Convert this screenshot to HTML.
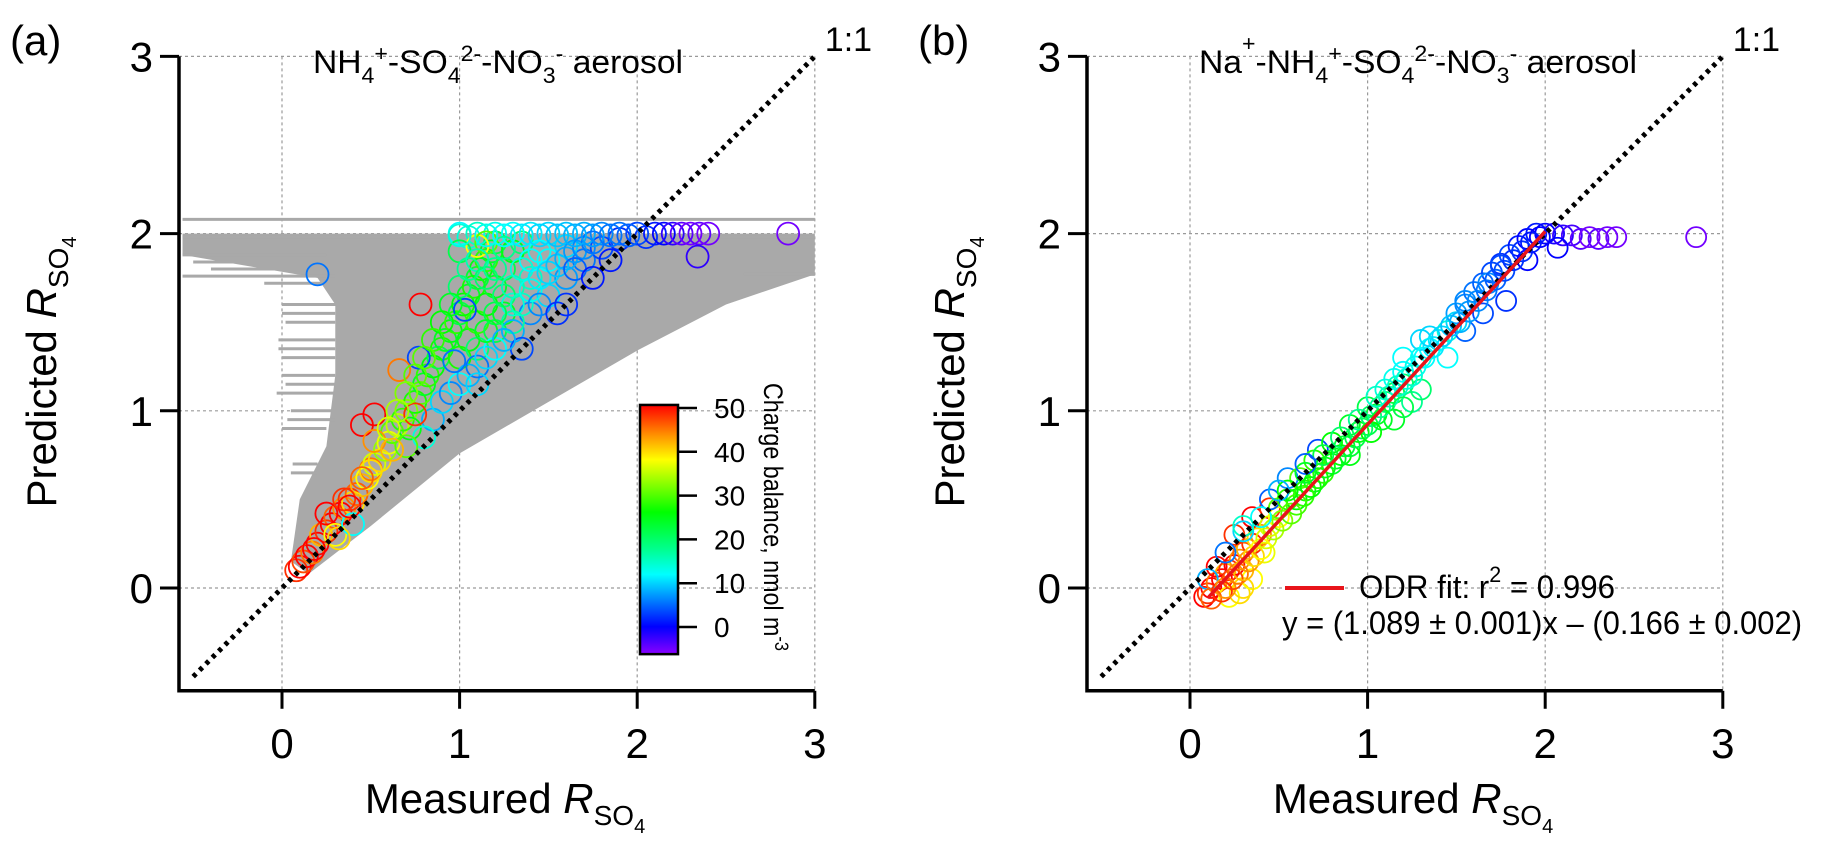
<!DOCTYPE html>
<html><head><meta charset="utf-8"><style>
html,body{margin:0;padding:0;background:#fff}
svg{display:block;font-family:"Liberation Sans",Arial,sans-serif}
</style></head><body>
<svg id="fig" width="1843" height="845" viewBox="0 0 1843 845">
<defs>
<linearGradient id="cbgrad" x1="0" y1="1" x2="0" y2="0">
<stop offset="0" stop-color="#8a00ff"/>
<stop offset="0.11" stop-color="#0000ff"/>
<stop offset="0.19" stop-color="#0060ff"/>
<stop offset="0.32" stop-color="#00ffff"/>
<stop offset="0.42" stop-color="#00ff90"/>
<stop offset="0.57" stop-color="#00ff00"/>
<stop offset="0.78" stop-color="#ffff00"/>
<stop offset="0.88" stop-color="#ff9000"/>
<stop offset="1" stop-color="#ff0000"/>
</linearGradient>
</defs>
<g id="panelA"></g>
<g id="panelB"></g>
</svg>
<script>
// ---- data ----
const tickValues = [0, 1, 2, 3];
const tickLabels = ["0", "1", "2", "3"];
const cbTicks = [0, 10, 20, 30, 40, 50];
const cbLabels = ["0", "10", "20", "30", "40", "50"];

// panel (a) measured, predicted, charge balance
const aX = [0.08,0.1,0.12,0.14,0.17,0.2,0.22,0.25,0.28,0.3,0.33,0.35,0.38,0.4,0.42,0.45,0.48,0.5,0.52,0.55,0.25,0.35,0.3,0.4,0.32,
0.58,0.6,0.62,0.65,0.68,0.7,0.72,0.75,0.78,0.8,0.82,0.85,0.88,0.9,0.92,0.95,0.98,1.0,1.02,1.05,1.08,1.1,1.12,1.15,1.18,1.2,1.05,1.1,1.15,1.2,1.25,1.3,1.35,1.0,1.1,1.2,1.25,
0.85,0.9,0.95,1.0,1.05,1.1,1.15,1.2,1.3,1.4,1.5,1.6,1.7,1.8,1.9,1.3,1.4,1.5,1.6,1.35,1.6,1.85,0.8,
1.0,1.05,1.1,1.2,1.3,1.4,1.5,1.6,1.7,1.8,1.9,2.0,2.05,2.1,2.15,2.2,2.25,2.3,2.35,2.4,2.34,2.85,1.1,1.15,1.0,1.25,
0.2,0.78,0.77,0.66,0.45,0.52,0.52,0.5,1.03,0.97,0.7,0.75,
1.0,1.05,1.1,1.15,1.2,1.25,1.3,1.35,1.4,1.45,1.3,1.35,1.4,1.45,1.5,1.55,1.6,1.65,1.7,1.75,1.2,1.15,0.95,0.9,0.85,0.8,0.75,0.7,0.65,0.6,
1.0,1.15,1.25,1.35,1.45,1.55,1.65,1.75,1.85,1.95,1.1,1.25,1.45,1.65,1.55,1.75,0.62,0.45,0.38,0.18];
const aY = [0.10,0.12,0.15,0.18,0.2,0.25,0.3,0.32,0.36,0.4,0.42,0.45,0.5,0.48,0.53,0.58,0.62,0.67,0.7,0.72,0.42,0.5,0.3,0.36,0.28,
0.78,0.82,0.88,0.92,0.95,1.0,0.9,1.05,1.1,1.15,1.2,1.25,1.3,1.35,1.4,1.45,1.5,1.55,1.6,1.65,1.7,1.75,1.8,1.85,1.9,1.95,1.4,1.5,1.6,1.7,1.8,1.9,1.95,1.3,1.35,1.45,1.55,
0.95,1.05,1.1,1.15,1.2,1.25,1.3,1.35,1.45,1.55,1.65,1.75,1.85,1.92,1.97,1.6,1.75,1.85,1.93,1.35,1.6,1.85,0.85,
2.0,1.98,2.0,2.0,2.0,2.0,2.0,2.0,2.0,2.0,2.0,2.0,1.98,2.0,2.0,2.0,2.0,2.0,2.0,2.0,1.87,2.0,1.93,1.95,1.9,1.92,
1.77,1.6,1.3,1.23,0.92,0.98,0.83,0.66,1.57,1.28,0.8,0.98,
1.7,1.8,1.85,1.75,1.8,1.65,1.7,1.8,1.85,1.9,1.5,1.6,1.68,1.75,1.78,1.82,1.86,1.9,1.92,1.95,1.55,1.45,1.6,1.5,1.4,1.3,1.2,1.1,1.0,0.9,
1.99,1.99,1.99,1.99,1.99,1.99,1.99,1.99,1.99,1.99,1.15,1.4,1.6,1.8,1.55,1.75,0.78,0.62,0.46,0.22];
const aC = [48,50,47,50,45,50,42,48,50,46,50,44,48,40,46,42,38,45,36,40,50,48,38,12,40,
33,37,30,35,28,32,25,27,30,24,28,26,22,27,24,25,28,22,26,24,27,23,25,28,24,22,25,28,26,24,22,25,20,27,20,22,24,
8,10,6,12,8,5,10,12,8,6,10,7,5,3,2,14,15,12,10,3,2,1,14,
12,14,15,13,12,11,10,9,8,6,5,3,2,1,0,-2,-4,-5,-4,-5,-2,-5,38,30,22,18,
5,50,3,45,50,50,44,40,3,5,30,48,
20,18,16,20,18,20,16,14,12,12,17,15,13,11,10,9,8,7,6,5,22,24,24,26,28,30,30,32,34,36,
14,13,12,11,10,9,8,7,5,4,10,8,6,4,2,1,42,46,50,50];

// panel (a) error envelope (data coords) and horizontal error bars [y, xlo, xhi]
const aEnvX = [-0.56,3.0,3.0,2.5,2.0,1.0,0.5,0.15,0.05,0.1,0.25,0.3,0.3,0.2,-0.56];
const aEnvY = [2.0,2.0,1.77,1.6,1.34,0.76,0.35,0.08,0.15,0.5,0.8,1.2,1.6,1.75,1.88];
const aErrY  = [2.08,1.98,1.88,1.84,1.8,1.76,1.72,1.6,1.5,1.4,1.3,1.2,1.1,1.0,0.9,0.7,0.65,1.8,1.77,1.55,1.35,1.15,0.95];
const aErrLo = [-0.56,-0.56,-0.56,-0.5,-0.4,-0.56,-0.1,0.0,0.02,-0.02,0.0,0.0,-0.03,0.05,0.0,0.06,0.05,2.5,2.6,0.0,-0.02,0.02,0.03];
const aErrHi = [3.0,3.0,0.25,0.3,0.25,0.3,0.3,0.35,0.3,0.3,0.3,0.3,0.3,0.3,0.25,0.2,0.2,3.0,3.0,0.3,0.3,0.3,0.3];

// panel (b)
const bX = [0.08,0.1,0.12,0.15,0.18,0.2,0.22,0.25,0.28,0.3,0.32,0.35,0.38,0.4,0.15,0.25,0.35,0.45,
0.22,0.28,0.35,0.42,0.45,0.5,0.3,
0.1,0.2,0.3,0.45,0.55,0.72,
0.5,0.55,0.6,0.65,0.7,0.75,0.8,0.85,0.9,0.95,1.0,1.05,1.1,1.15,1.2,0.62,0.7,0.8,0.9,1.0,1.25,1.3,0.9,1.15,
1.1,1.2,1.25,1.3,1.35,1.4,1.45,1.2,1.3,1.45,1.5,
1.5,1.55,1.6,1.65,1.7,1.75,1.8,1.85,1.9,1.95,2.0,1.55,1.65,1.78,1.68,1.9,
2.05,2.1,2.15,2.2,2.25,2.3,2.35,2.4,2.07,2.85,
0.12,0.18,0.2,0.24,0.27,0.3,0.33,0.36,0.4,0.43,0.47,0.52,0.57,0.6,0.64,0.68,0.72,0.76,0.82,0.87,0.93,0.97,1.02,1.07,1.12,1.17,1.22,1.27,1.32,1.37,1.42,1.47,1.52,1.57,1.62,1.67,1.72,1.77,1.82,1.87,1.92,1.97,
0.55,0.65,0.75,0.85,0.95,1.05,1.15,1.35,1.55,1.75,1.02,1.08,1.2,0.4,0.5,0.65,0.3];
const bY = [-0.05,-0.03,0.0,0.03,0.05,0.08,0.1,0.13,0.16,0.2,0.22,0.25,0.28,0.3,0.12,0.3,0.4,0.45,
-0.05,-0.03,0.05,0.2,0.35,0.4,0.0,
0.05,0.2,0.32,0.5,0.62,0.78,
0.45,0.5,0.5,0.55,0.6,0.65,0.7,0.75,0.8,0.88,0.92,0.98,1.05,1.1,1.15,0.62,0.72,0.82,0.92,1.02,1.05,1.12,0.75,0.95,
1.12,1.22,1.2,1.3,1.35,1.4,1.45,1.3,1.4,1.3,1.5,
1.55,1.6,1.67,1.72,1.78,1.83,1.88,1.93,1.97,2.0,2.0,1.45,1.55,1.62,1.72,1.85,
2.0,1.99,1.99,1.97,1.98,1.97,1.98,1.98,1.92,1.98,
-0.06,-0.02,0.0,0.05,0.08,0.1,0.15,0.18,0.22,0.28,0.33,0.38,0.42,0.47,0.52,0.57,0.62,0.68,0.73,0.8,0.85,0.9,0.97,1.02,1.08,1.14,1.18,1.25,1.3,1.36,1.42,1.48,1.5,1.56,1.62,1.68,1.74,1.79,1.85,1.9,1.95,1.98,
0.55,0.65,0.75,0.85,0.95,1.08,1.18,1.42,1.62,1.82,0.88,0.95,1.02,0.4,0.55,0.7,0.35];
const bC = [50,48,50,45,50,42,48,50,44,46,42,48,40,44,50,48,50,48,
38,40,38,37,36,38,40,
8,5,10,4,6,3,
30,28,26,27,25,28,24,26,23,25,22,24,20,22,20,30,28,26,24,22,18,20,25,24,
14,12,15,13,12,11,14,12,10,12,10,
7,6,5,4,3,2,3,1,0,1,0,4,3,2,6,0,
-1,-2,-3,-4,-5,-4,-5,-5,0,-5,
46,48,44,47,45,42,44,40,38,36,34,32,30,29,28,26,27,25,24,23,22,21,20,18,16,15,14,13,12,11,10,9,8,7,6,5,4,3,2,2,1,0,
26,24,22,20,18,15,13,10,6,3,26,24,22,12,8,4,15];
const fitSlope = 1.089, fitIntercept = -0.166, fitXmin = 0.1, fitXmax = 2.0;

// ---- geometry ----
const NS = "http://www.w3.org/2000/svg";
const UX = 177.6, UY = 177.2, Y0 = 588;
const XMIN = -0.58, YMIN = -0.58;
function mk(parent, tag, attrs, text) {
  const e = document.createElementNS(NS, tag);
  for (const k in attrs) e.setAttribute(k, attrs[k]);
  if (text !== undefined) e.textContent = text;
  parent.appendChild(e);
  return e;
}
function cmap(v) {
  const s = [[-6,[138,0,255]],[0,[0,0,255]],[4,[0,96,255]],[12,[0,255,255]],[18,[0,255,144]],[26,[0,255,0]],[38,[255,255,0]],[44,[255,144,0]],[50,[255,0,0]]];
  if (v <= s[0][0]) return "rgb(" + s[0][1] + ")";
  for (let i = 1; i < s.length; i++) {
    if (v <= s[i][0]) {
      const t = (v - s[i-1][0]) / (s[i][0] - s[i-1][0]);
      const c = s[i-1][1].map((a, j) => Math.round(a + t * (s[i][1][j] - a)));
      return "rgb(" + c + ")";
    }
  }
  return "rgb(255,0,0)";
}

function drawPanel(g, X0, letter, titleParts, titleWidth) {
  const X = v => X0 + UX * v, Y = v => Y0 - UY * v;
  const L = X(XMIN), R = X(3), T = Y(3), B = Y(YMIN);
  tickValues.forEach(v => {
    const gx = mk(g, "line", {x1: X(v), y1: T, x2: X(v), y2: B, stroke: "#9a9a9a", "stroke-width": 1.2, "stroke-dasharray": "3 3"});
    
    
    const gy = mk(g, "line", {x1: L, y1: Y(v), x2: R, y2: Y(v), stroke: "#9a9a9a", "stroke-width": 1.2, "stroke-dasharray": "3 3"});
    
    
  });
  const ax = mk(g, "path", {d: `M${L},${T} L${L},${B} L${R},${B}`, fill: "none", stroke: "#000", "stroke-width": 3.5});
  
  
  tickValues.forEach((v, i) => {
    mk(g, "line", {x1: L - 19, y1: Y(v), x2: L, y2: Y(v), stroke: "#000", "stroke-width": 3});
    mk(g, "line", {x1: X(v), y1: B, x2: X(v), y2: B + 18, stroke: "#000", "stroke-width": 3});
    const ty = mk(g, "text", {x: L - 26, y: Y(v) + 15, "font-size": 42, "text-anchor": "end"}, tickLabels[i]);
    
    
    const tx = mk(g, "text", {x: X(v), y: B + 67, "font-size": 42, "text-anchor": "middle"}, tickLabels[i]);
    
    
  });
  const xt = mk(g, "text", {x: X0 + 223, y: 813, "font-size": 42, "text-anchor": "middle"});
  
  
  xt.innerHTML = 'Measured <tspan font-style="italic">R</tspan><tspan font-size="28" dy="12">SO</tspan><tspan font-size="20" dy="8">4</tspan>';
  const yt = mk(g, "text", {x: 0, y: 0, "font-size": 42, "text-anchor": "middle", transform: `translate(${X0 - 226},372) rotate(-90)`});
  
  
  yt.innerHTML = 'Predicted <tspan font-style="italic">R</tspan><tspan font-size="28" dy="12">SO</tspan><tspan font-size="20" dy="8">4</tspan>';
  const pl = mk(g, "text", {x: X0 - 272, y: 55, "font-size": 42}, letter);
  
  
  const tt = mk(g, "text", {x: X0 + (letter === "(a)" ? 31 : 9), y: 73, "font-size": 32, textLength: titleWidth, lengthAdjust: "spacingAndGlyphs"});
  
  
  tt.innerHTML = titleParts;
  const oo = mk(g, "text", {x: R + 10, y: 51, "font-size": 34}, "1:1");
  
  
  return {X, Y, L, R, T, B};
}

const gA = document.getElementById("panelA");
const gB = document.getElementById("panelB");
const titleA = 'NH<tspan font-size="22" dy="10">4</tspan><tspan font-size="22" dy="-22">+</tspan><tspan dy="12">-SO</tspan><tspan font-size="22" dy="10">4</tspan><tspan font-size="22" dy="-22">2-</tspan><tspan dy="12">-NO</tspan><tspan font-size="22" dy="10">3</tspan><tspan font-size="22" dy="-22">-</tspan><tspan dy="12"> aerosol</tspan>';
const titleB = 'Na<tspan font-size="22" dy="-22">+</tspan><tspan dy="22">-NH</tspan><tspan font-size="22" dy="10">4</tspan><tspan font-size="22" dy="-22">+</tspan><tspan dy="12">-SO</tspan><tspan font-size="22" dy="10">4</tspan><tspan font-size="22" dy="-22">2-</tspan><tspan dy="12">-NO</tspan><tspan font-size="22" dy="10">3</tspan><tspan font-size="22" dy="-22">-</tspan><tspan dy="12"> aerosol</tspan>';

const pa = drawPanel(gA, 282, "(a)", titleA, 370);
const pb = drawPanel(gB, 1190, "(b)", titleB, 438);

const env = mk(gA, "polygon", {points: aEnvX.map((x, i) => pa.X(x) + "," + pa.Y(aEnvY[i])).join(" "), fill: "#a9a9a9", stroke: "none"});


aErrY.forEach((y, i) => {
  const e = mk(gA, "line", {x1: pa.X(aErrLo[i]), y1: pa.Y(y), x2: pa.X(aErrHi[i]), y2: pa.Y(y), stroke: "#a9a9a9", "stroke-width": 3});
  
  
});

function oneToOne(p, g) {
  const l = mk(g, "line", {x1: p.X(-0.5), y1: p.Y(-0.5), x2: p.X(3), y2: p.Y(3), stroke: "#000", "stroke-width": 5, "stroke-dasharray": "4 5"});
  
  
}
function scatter(p, g, xs, ys, cs, r) {
  xs.forEach((x, i) => {
    const c = mk(g, "circle", {cx: p.X(x), cy: p.Y(ys[i]), r: r, fill: "none", stroke: cmap(cs[i]), "stroke-width": 1.8});
    
    
  });
}
scatter(pa, gA, aX, aY, aC, 11);
oneToOne(pa, gA);

const cbG = mk(gA, "g", {});


const cbY = v => 627 - 4.38 * v;
const cbr = mk(cbG, "rect", {x: 640, y: cbY(50.7), width: 38, height: cbY(-6.2) - cbY(50.7), fill: "url(#cbgrad)", stroke: "#000", "stroke-width": 2.5});


cbTicks.forEach((v, i) => {
  mk(cbG, "line", {x1: 678, y1: cbY(v), x2: 697, y2: cbY(v), stroke: "#000", "stroke-width": 2.5});
  const t = mk(cbG, "text", {x: 714, y: cbY(v) + 10, "font-size": 28}, cbLabels[i]);
  
  
});
const cbt = mk(cbG, "text", {x: 0, y: 0, "font-size": 27, textLength: 268, lengthAdjust: "spacingAndGlyphs", transform: "translate(764,383) rotate(90)"});


cbt.innerHTML = 'Charge balance, nmol m<tspan font-size="19" dy="-11">-3</tspan>';

scatter(pb, gB, bX, bY, bC, 10);
oneToOne(pb, gB);
const fit = mk(gB, "line", {x1: pb.X(fitXmin), y1: pb.Y(fitSlope * fitXmin + fitIntercept), x2: pb.X(fitXmax), y2: pb.Y(fitSlope * fitXmax + fitIntercept), stroke: "#e8141a", "stroke-width": 3.5});


const lg = mk(gB, "g", {});


mk(lg, "line", {x1: 1285, y1: 588, x2: 1344, y2: 588, stroke: "#e8141a", "stroke-width": 4});
const l1 = mk(lg, "text", {x: 1359, y: 598, "font-size": 32, textLength: 256, lengthAdjust: "spacingAndGlyphs"});


l1.innerHTML = 'ODR fit: r<tspan font-size="22" dy="-16">2</tspan><tspan dy="16"> = 0.996</tspan>';
const l2 = mk(lg, "text", {x: 1282, y: 634, "font-size": 32, textLength: 520, lengthAdjust: "spacingAndGlyphs"}, "y = (1.089 ± 0.001)x – (0.166 ± 0.002)");


</script>
</body></html>
